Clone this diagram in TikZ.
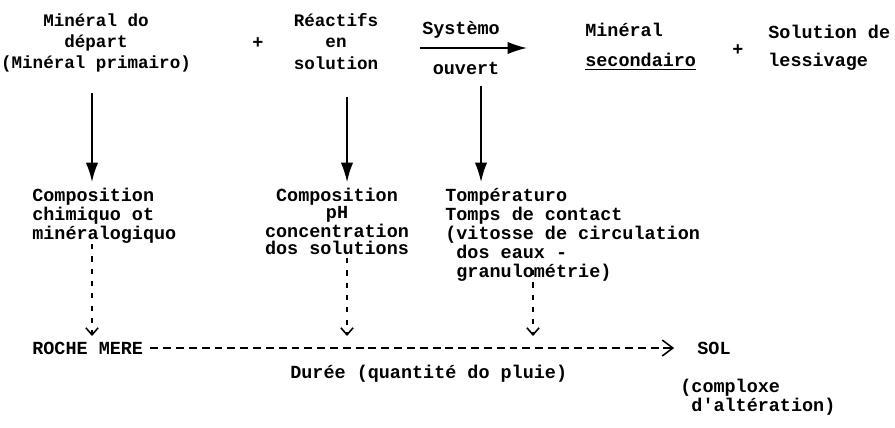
\documentclass[tikz,border=0pt]{standalone}
\usepackage{fontspec}
\setmonofont{Liberation Mono}
\usepackage{tikz}
\usetikzlibrary{arrows.meta}

\begin{document}
\begin{tikzpicture}[x=0.02cm, y=-0.02cm,
        txt/.style={font=\ttfamily\bfseries\fontsize{10.5}{9.7}\selectfont, inner sep=0pt},
        haut/.style={txt, font=\ttfamily\bfseries\fontsize{10}{12.2}\selectfont},
        plein/.style={line width=1pt, -{Latex[length=11pt,width=7pt]}},
        pointille/.style={line width=0.9pt, dash pattern=on 3pt off 4pt, -{Straight Barb[length=4pt,width=7pt]}},
        tirets/.style={line width=0.9pt, dash pattern=on 4.5pt off 2.8pt, -{Straight Barb[length=6pt,width=9pt]}}]
    \useasboundingbox (0,0) rectangle (895,427);

    \node[haut, anchor=north, align=center] (mindep) at (96,13) {Minéral do\\départ\\(Minéral primairo)};
    \node[txt] (plus1) at (258,43) {+};
    \node[haut, anchor=north, align=center] (reac) at (336,13) {Réactifs\\en\\solution};
    \node[txt] (sys) at (461,30) {Systèmo};
    \node[txt] (ouv) at (466,68) {ouvert};
    \node[txt, anchor=west] (minsec) at (585,30) {Minéral};
    \node[txt, anchor=west] (second) at (585,62) {\underline{secondairo}};
    \node[txt] (plus2) at (738,50) {+};
    \node[txt, anchor=west] (sollu) at (768,32) {Solution de};
    \node[txt, anchor=west] (lessiv) at (768,62) {lessivage};

    \coordinate (sysA) at (420,48);
    \coordinate (sysB) at (527,48);
    \draw[plein] (sysA) -- (sysB);

    \node[txt, anchor=north west, align=left] (comp1) at (32,188) {Composition\\chimiquo ot\\minéralogiquo};
    \node[txt, anchor=north, align=center] (comp2) at (337,188) {Composition\\pH\\concentration\\dos solutions};
    \node[txt, anchor=north west, align=left] (temp) at (445,188) {Tompératuro\\Tomps de contact\\(vitosse de circulation\\\phantom{(}dos eaux -\\\phantom{(}granulométrie)};

    \coordinate (f1a) at (92,93);
    \coordinate (f1b) at (92,182);
    \coordinate (f2a) at (347,97);
    \coordinate (f2b) at (347,182);
    \coordinate (f3a) at (481,86);
    \coordinate (f3b) at (481,182);
    \draw[plein] (f1a) -- (f1b);
    \draw[plein, line width=0.8pt] (f2a) -- (f2b);
    \draw[plein, line width=0.8pt] (f3a) -- (f3b);

    \node[txt, anchor=west] (roche) at (32,348) {ROCHE MERE};
    \node[txt, anchor=west] (sol) at (697,348) {SOL};
    \node[txt, anchor=west] (duree) at (290,374) {Durée (quantité do pluie)};
    \node[txt, anchor=north west, align=left] (cplx) at (680,379) {(comploxe\\\phantom{(}d'altération)};

    \coordinate (p1a) at (92,244);
    \coordinate (p1b) at (92,336);
    \coordinate (p2a) at (347,258);
    \coordinate (p2b) at (347,336);
    \coordinate (p3a) at (533,270);
    \coordinate (p3b) at (533,336);
    \draw[pointille] (p1a) -- (p1b);
    \draw[pointille] (p2a) -- (p2b);
    \draw[pointille] (p3a) -- (p3b);

    \draw[tirets, shorten <=4pt, shorten >=13pt] (roche.east) -- (sol.west);
\end{tikzpicture}
\end{document}
